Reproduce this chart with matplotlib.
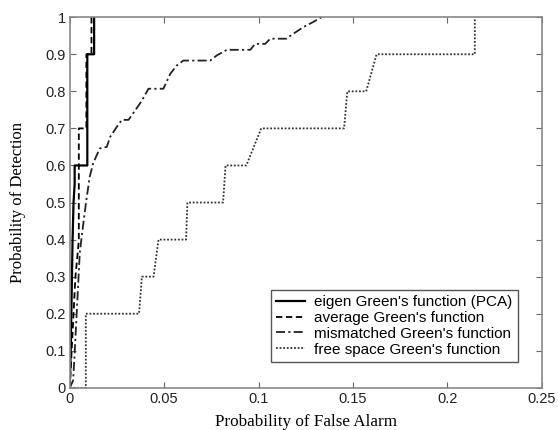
import matplotlib
matplotlib.use("Agg")
import matplotlib.pyplot as plt

# ---- data ----
eigen_pfa = [0.0, 0.0005, 0.0010, 0.0015, 0.0020, 0.0026, 0.0026, 0.0093, 0.0093, 0.0129, 0.0129]
eigen_pd  = [0.0, 0.10,   0.25,   0.40,   0.50,   0.55,   0.60,   0.60,   0.90,   0.90,   1.00]

avg_pfa = [0.0, 0.0010, 0.0020, 0.0030, 0.0045, 0.0048, 0.0048, 0.0088, 0.0088, 0.0115, 0.0115]
avg_pd  = [0.0, 0.10,   0.20,   0.30,   0.38,   0.40,   0.70,   0.70,   0.90,   0.90,   1.00]

mis_pfa = [0.0, 0.0018, 0.0026, 0.0035, 0.0044, 0.0053, 0.0071, 0.0088, 0.0106, 0.0124,
           0.0159, 0.0196, 0.0214, 0.0249, 0.0276, 0.0311, 0.0346, 0.0382, 0.0417, 0.0496,
           0.0532, 0.0567, 0.0602, 0.0744, 0.0779, 0.0832, 0.0956, 0.0982, 0.1035, 0.1062,
           0.1148, 0.1183, 0.1236, 0.1289, 0.1333]
mis_pd  = [0.0, 0.02, 0.094, 0.183, 0.273, 0.364, 0.44, 0.507, 0.57, 0.606,
           0.646, 0.650, 0.677, 0.704, 0.723, 0.723, 0.748, 0.775, 0.807, 0.807,
           0.847, 0.870, 0.883, 0.883, 0.897, 0.912, 0.912, 0.928, 0.928, 0.942,
           0.942, 0.955, 0.973, 0.987, 1.0]

free_pfa = [0.0, 0.0085, 0.0085, 0.0367, 0.0382, 0.0444, 0.0470, 0.0616, 0.0623, 0.0812,
            0.0825, 0.0935, 0.1014, 0.1453, 0.1470, 0.1570, 0.1625, 0.2145, 0.2145]
free_pd  = [0.0, 0.0, 0.2, 0.2, 0.3, 0.3, 0.4, 0.4, 0.5, 0.5,
            0.6, 0.6, 0.7, 0.7, 0.8, 0.8, 0.9, 0.9, 1.0]

labels = ["eigen Green's function (PCA)", "average Green's function",
          "mismatched Green's function", "free space Green's function"]

xticks = [0, 0.05, 0.1, 0.15, 0.2, 0.25]
xticklabels = ["0", "0.05", "0.1", "0.15", "0.2", "0.25"]
yticks = [0, 0.1, 0.2, 0.3, 0.4, 0.5, 0.6, 0.7, 0.8, 0.9, 1.0]
yticklabels = ["0", "0.1", "0.2", "0.3", "0.4", "0.5", "0.6", "0.7", "0.8", "0.9", "1"]

fig = plt.figure(figsize=(5.58, 4.30), dpi=100)
ax = fig.add_axes([0.125, 0.098, 0.846, 0.862])

ax.plot(eigen_pfa, eigen_pd, color="black", linestyle="-", linewidth=1.6, label=labels[0])
ax.plot(avg_pfa, avg_pd, color="black", linestyle=(0, (3.5, 2)), linewidth=1.3, label=labels[1])
ax.plot(mis_pfa, mis_pd, color="#222222", linestyle=(0, (5, 1.8, 1.2, 1.8)), linewidth=1.3, label=labels[2])
ax.plot(free_pfa, free_pd, color="#333333", linestyle=(0, (1, 1)), linewidth=1.3, label=labels[3])

ax.set_xlim(0, 0.25)
ax.set_ylim(0, 1)
ax.set_xticks(xticks)
ax.set_xticklabels(xticklabels, family="Liberation Sans", fontsize=10.5)
ax.set_yticks(yticks)
ax.set_yticklabels(yticklabels, family="Liberation Sans", fontsize=10.5)
ax.tick_params(direction="in", top=True, right=True, length=4, width=0.8,
               color="#666666", labelcolor="#222222", pad=3)
for s in ax.spines.values():
    s.set_color("#888888")
    s.set_linewidth(1.2)

ax.set_xlabel("Probability of False Alarm", family="Liberation Serif", fontsize=12.3, labelpad=6)
ax.set_ylabel("Probability of Detection", family="Liberation Serif", fontsize=12, labelpad=14)

leg = ax.legend(loc="lower right", bbox_to_anchor=(0.949, 0.070), borderaxespad=0,
                prop={"family": "Liberation Sans", "size": 11}, fancybox=False,
                framealpha=1, edgecolor="#555555", handlelength=1.9, handletextpad=0.6,
                labelspacing=0.12, borderpad=0.35)
leg.get_frame().set_linewidth(1.0)

fig.savefig("out.png", dpi=100)
